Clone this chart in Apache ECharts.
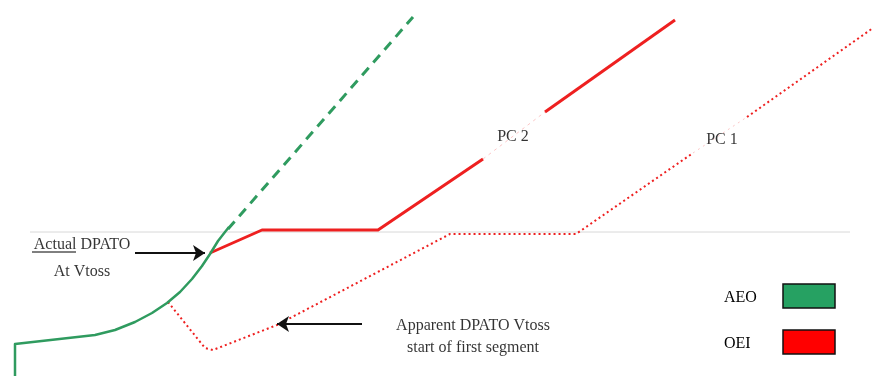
<!DOCTYPE html>
<html><head><meta charset="utf-8">
<script src="https://cdn.jsdelivr.net/npm/echarts@6/dist/echarts.min.js"></script>
<style>html,body{margin:0;padding:0;background:#fff}#c{width:875px;height:376px}</style>
</head><body><div id="c"></div>
<script>
// Diagram values (x = horizontal distance units, y = height units, origin bottom-left)
const aeoSolid = [[15,0],[15,32],[95,41],[115,46],[135,54],[152,63],[167,73],[180,84],[192,97],[202,110],[210,122],[218,135],[225,144],[229,149]];
const aeoDashed = [[228,147],[413,359]];
const oeiPC2a = [[210,123],[262,146],[378,146],[483,217]];
const oeiPC2b = [[545,264],[675,356]];
const oeiPC2gap = [[483,217],[545,264]];
const oeiPC1a = [[168,74],[205,28],[213,26],[277,51],[450,142],[576,142],[693,223]];
const oeiPC1b = [[747,259],[873,348]];
const oeiPC1gap = [[693,223],[747,259]];
const refLine = [[30,144],[850,144]];
const arrows = [[[135,123],[205,123]],[[362,52],[277,52]]];
const notes = [
  [82,131,'Actual DPATO'],
  [82,104,'At Vtoss'],
  [473,50,'Apparent DPATO Vtoss'],
  [473,28,'start of first segment'],
  [513,239,'PC 2'],
  [722,236,'PC 1']
];
const underline = [[32,124],[76,124]];
const legendItems = ['AEO','OEI'];
const legendColors = ['#26a162','#ff0000'];

const GREEN = '#2f9b5f', RED = '#ee2020';
const chart = echarts.init(document.getElementById('c'));
const ff = '"Liberation Serif", "Times New Roman", serif';
const lineS = (data, color, width, type, z, opacity) => ({
  type:'line', data, symbol:'none', silent:true, z: z||2,
  lineStyle:{color, width, type: type||'solid', opacity: opacity==null?1:opacity, cap:'butt', join:'round'}
});
chart.setOption({
  animation:false,
  grid:{left:0,right:0,top:0,bottom:0},
  xAxis:{type:'value',min:0,max:875,show:false},
  yAxis:{type:'value',min:0,max:376,show:false},
  series:[
    lineS(refLine,'#d8d8d8',1,'solid',1),
    lineS(oeiPC1a,RED,2,[2,3],2),
    lineS(oeiPC1b,RED,2,[2,3],2),
    lineS(oeiPC1gap,RED,1,[2,4],2,0.25),
    lineS(oeiPC2gap,RED,1,[3,4],2,0.25),
    lineS(oeiPC2a,RED,3,'solid',3),
    lineS(oeiPC2b,RED,3,'solid',3),
    lineS(aeoDashed,GREEN,3,[10,7],3),
    lineS(aeoSolid,GREEN,2.5,'solid',4),
    lineS(underline,'#000',1,'solid',5),
    {
      type:'lines', coordinateSystem:'cartesian2d', silent:true, z:5,
      symbol:['none','arrow'], symbolSize:12,
      lineStyle:{color:'#111',width:2,opacity:1,curveness:0},
      data: arrows.map(a=>({coords:a}))
    },
    {
      type:'scatter', symbolSize:0, silent:true, z:6,
      data: notes,
      label:{show:true, position:'inside', formatter:p=>p.data[2],
        color:'#000', fontFamily:ff, fontSize:16}
    }
  ],
  graphic: legendItems.flatMap((n,i)=>[
    {type:'text', left:724, top:290+i*46, style:{text:n, fill:'#000', font:'16px '+ff}},
    {type:'rect', shape:{x:783,y:284+i*46,width:52,height:24},
     style:{fill:legendColors[i], stroke:'#111', lineWidth:1.5}}
  ])
});
</script></body></html>
